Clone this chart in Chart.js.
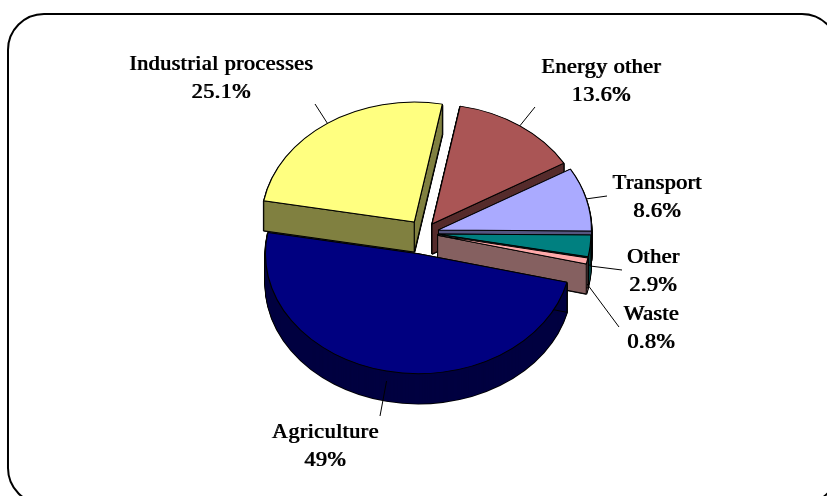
<!DOCTYPE html>
<html>
<head>
<meta charset="utf-8">
<style>
  html, body { margin: 0; padding: 0; background: #fff; }
  #wrap { width: 827px; height: 496px; overflow: hidden; }
</style>
<script src="https://cdn.jsdelivr.net/npm/chart.js@4"></script>
</head>
<body>
<div id="wrap"><canvas id="chart" width="827" height="496"></canvas></div>
<script>
const categories = ['Agriculture', 'Industrial processes', 'Energy other', 'Transport', 'Other', 'Waste'];
const shares = [49, 25.1, 13.6, 8.6, 2.9, 0.8];
const topColors = ['#000080', '#FFFF80', '#AA5555', '#AAAAFF', '#008080', '#FFAAAA'];
const sideColors = ['#000040', '#808040', '#552B2B', '#555580', '#004040', '#856060'];

// look of the tilted, exploded pie
const tilt = 0.784, depth = 30;
const explode = [27, 17, 14, 15, 14, 14];
const paintOrder = [1, 2, 3, 4, 5, 0];
// label centres and leader line ends, same order as categories
const labelX = [325, 221, 601, 657, 653, 651];
const labelY = [432, 64, 67, 183, 257, 314];
const leaderEnd = [[380, 416], [315, 104], [535, 107], [607, 196], [622, 270], [619, 327]];
const leaderDrop = [10, 0, 0, 0, 20, 23];

function place(ctx, arc, i, drop) {
  const mid = (arc.startAngle + arc.endAngle) / 2;
  ctx.translate(arc.x, arc.y + drop);
  ctx.scale(1, tilt);
  ctx.translate(Math.cos(mid) * explode[i], Math.sin(mid) * explode[i]);
  ctx.translate(-arc.x, -arc.y);
}

// screen position of a point on a slice, r and angle in pie space
function onSlice(arc, i, r, angle, drop) {
  const mid = (arc.startAngle + arc.endAngle) / 2;
  return {
    x: arc.x + Math.cos(mid) * explode[i] + Math.cos(angle) * r,
    y: arc.y + drop + tilt * (Math.sin(mid) * explode[i] + Math.sin(angle) * r)
  };
}

function drawSlice(ctx, arc, i, opts) {
  const fake = Object.create(arc);
  fake.options = Object.assign({}, arc.options, opts);
  fake.draw(ctx);
}

const pie3d = {
  id: 'pie3d',
  beforeDraw(chart) {
    const ctx = chart.ctx;
    ctx.save();
    ctx.fillStyle = '#fff';
    ctx.fillRect(0, 0, 827, 496);
    ctx.strokeStyle = '#000';
    ctx.lineWidth = 2;
    ctx.beginPath();
    ctx.roundRect(8, 14, 830, 490, 36);
    ctx.stroke();
    ctx.restore();
  },
  beforeDatasetsDraw(chart) {
    const ctx = chart.ctx;
    const arcs = chart.getDatasetMeta(0).data;
    paintOrder.forEach(i => {
      const arc = arcs[i];
      // walls: outline pass then fill pass, so only the silhouette stays black
      for (let d = depth; d >= 1; d--) {
        ctx.save();
        place(ctx, arc, i, d);
        drawSlice(ctx, arc, i, { backgroundColor: sideColors[i], borderColor: '#000', borderWidth: 2 });
        ctx.restore();
      }
      for (let d = depth; d >= 1; d--) {
        ctx.save();
        place(ctx, arc, i, d);
        drawSlice(ctx, arc, i, { backgroundColor: sideColors[i], borderWidth: 0 });
        ctx.restore();
      }
      // flat radial walls, these also clean up thin slices
      ctx.save();
      ctx.strokeStyle = '#000';
      ctx.fillStyle = sideColors[i];
      ctx.lineWidth = 1;
      const o = onSlice(arc, i, 0, 0, 0);
      [arc.startAngle, arc.endAngle].forEach(angle => {
        const p = onSlice(arc, i, arc.outerRadius, angle, 0);
        ctx.beginPath();
        ctx.moveTo(o.x, o.y);
        ctx.lineTo(p.x, p.y);
        ctx.lineTo(p.x, p.y + depth);
        ctx.lineTo(o.x, o.y + depth);
        ctx.closePath();
        ctx.fill();
        ctx.stroke();
      });
      ctx.restore();
      // top face
      ctx.save();
      place(ctx, arc, i, 0);
      drawSlice(ctx, arc, i, { backgroundColor: topColors[i], borderColor: '#000', borderWidth: 1.2 });
      ctx.restore();
    });
    return false;
  },
  afterDraw(chart) {
    const ctx = chart.ctx;
    const arcs = chart.getDatasetMeta(0).data;
    ctx.save();
    ctx.strokeStyle = '#000';
    ctx.fillStyle = '#000';
    ctx.lineWidth = 1;
    ctx.font = '22px "Liberation Serif"';
    ctx.letterSpacing = '0.5px';
    ctx.textAlign = 'center';
    ctx.textBaseline = 'middle';
    categories.forEach((name, i) => {
      const arc = arcs[i];
      const mid = (arc.startAngle + arc.endAngle) / 2;
      const s = onSlice(arc, i, arc.outerRadius, mid, leaderDrop[i]);
      ctx.beginPath();
      ctx.moveTo(s.x, s.y);
      ctx.lineTo(leaderEnd[i][0], leaderEnd[i][1]);
      ctx.stroke();
      // double struck like the original bitmap text
      [0, 1].forEach(dx => {
        ctx.fillText(name, labelX[i] + dx, labelY[i]);
        ctx.fillText(shares[i] + '%', labelX[i] + dx, labelY[i] + 28);
      });
    });
    ctx.restore();
  }
};

new Chart(document.getElementById('chart'), {
  type: 'pie',
  data: {
    labels: categories,
    datasets: [{ data: shares, backgroundColor: topColors, borderColor: '#000', borderWidth: 1 }]
  },
  options: {
    responsive: false,
    animation: false,
    rotation: 103.8,
    radius: 153,
    layout: { padding: { left: 21, bottom: 30 } },
    plugins: { legend: { display: false }, tooltip: { enabled: false } }
  },
  plugins: [pie3d]
});
</script>
</body>
</html>
